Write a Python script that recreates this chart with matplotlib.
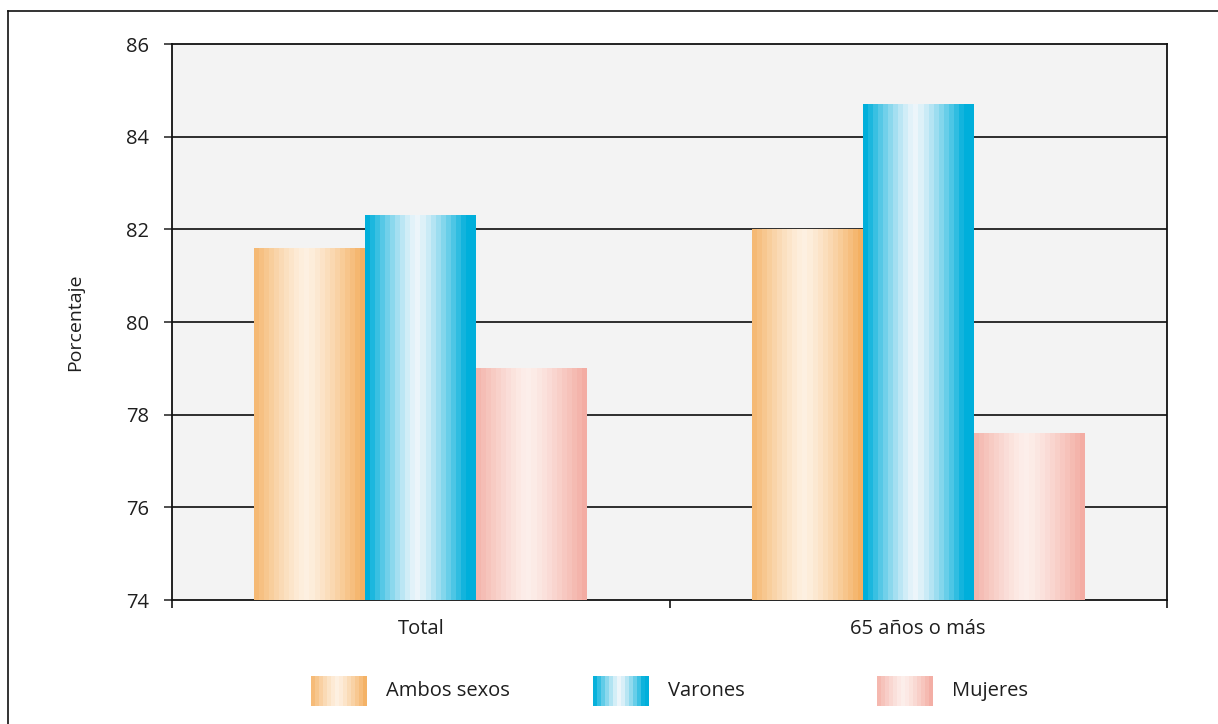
import numpy as np
import matplotlib
matplotlib.use('Agg')
import matplotlib.pyplot as plt
from matplotlib.lines import Line2D
from matplotlib.colors import to_rgb

plt.rcParams['font.family'] = ['Open Sans', 'DejaVu Sans']

# Data
categories = ['Total', '65 años o más']
series = ['Ambos sexos', 'Varones', 'Mujeres']
ambos = [81.6, 82.0]
varones = [82.3, 84.7]
mujeres = [79.0, 77.6]
yticks = [74, 76, 78, 80, 82, 84, 86]

# (edge colour, centre colour, width of the solid edge band)
styles = {
    'Ambos sexos': ('#f4ad5b', '#fef1e2', 0.0),
    'Varones': ('#00afdb', '#eef6fb', 0.16),
    'Mujeres': ('#f3a99f', '#fdefeb', 0.0),
}


def gradient(edge, centre, solid, nbands=22):
    edge = np.array(to_rgb(edge))
    centre = np.array(to_rgb(centre))
    pos = (np.arange(nbands) + 0.5) / nbands
    d = np.abs(pos - 0.47) / 0.53
    w = np.clip(d / (1 - solid), 0, 1) ** 1.25
    cols = centre[None, :] + w[:, None] * (edge - centre)[None, :]
    return cols[None, :, :]


W, H = 1218, 724
fig = plt.figure(figsize=(W / 100, H / 100), dpi=100)
ax = fig.add_axes([172 / W, 1 - 600 / H, (1167 - 172) / W, (600 - 44) / H])
ax.set_facecolor('#f3f3f3')

x = np.arange(len(categories))
bw = 0.223
vals = {'Ambos sexos': ambos, 'Varones': varones, 'Mujeres': mujeres}
for i, name in enumerate(series):
    edge, centre, solid = styles[name]
    img = gradient(edge, centre, solid)
    bars = ax.bar(x + (i - 1) * bw, np.array(vals[name]) - yticks[0],
                  bottom=yticks[0], width=bw, facecolor='none',
                  edgecolor='none', zorder=3)
    for p in bars.patches:
        x0, y0 = p.get_x(), p.get_y()
        im = ax.imshow(img, extent=[x0, x0 + p.get_width(), y0, y0 + p.get_height()],
                       aspect='auto', interpolation='nearest', zorder=3)
        im.set_clip_path(p)

ax.set_xlim(-0.5, 1.5)
ax.set_ylim(74, 86)

# Horizontal reference lines
for yv in yticks[1:-1]:
    ax.axhline(yv, color='#1e1e1e', lw=1.3, zorder=2)

ax.set_yticks(yticks)
ax.tick_params(axis='y', direction='out', length=5.5, width=1.1, pad=11,
               labelsize=14.5, colors='#1e1e1e')
ax.set_xticks(x)
ax.set_xticklabels(categories)
ax.tick_params(axis='x', which='major', length=0, pad=14, labelsize=14.5,
               colors='#1e1e1e')
ax.set_xticks([-0.5, 0.5, 1.5], minor=True)
ax.tick_params(axis='x', which='minor', direction='out', length=5.5, width=1.1)

for s in ax.spines.values():
    s.set_color('#111111')
    s.set_linewidth(1.3)

ax.set_ylabel('Porcentaje', fontsize=14, color='#1e1e1e', labelpad=30)

# Legend drawn as separate swatches
leg_x = [311, 593, 877]
for name, lx in zip(series, leg_x):
    edge, centre, solid = styles[name]
    sax = fig.add_axes([lx / W, 1 - 706 / H, 56 / W, 30 / H])
    sax.imshow(gradient(edge, centre, solid, nbands=14), aspect='auto',
               interpolation='nearest')
    sax.set_axis_off()
    fig.text((lx + 75) / W, 1 - 691 / H, name, fontsize=14.5,
             color='#1e1e1e', va='center', ha='left')

# Outer frame
fig.add_artist(Line2D([8 / W, 8 / W], [0, 1 - 11 / H], color='#111111', lw=1.2))
fig.add_artist(Line2D([8 / W, 1], [1 - 11 / H, 1 - 11 / H], color='#111111', lw=1.2))

fig.savefig('out.png', dpi=100)
